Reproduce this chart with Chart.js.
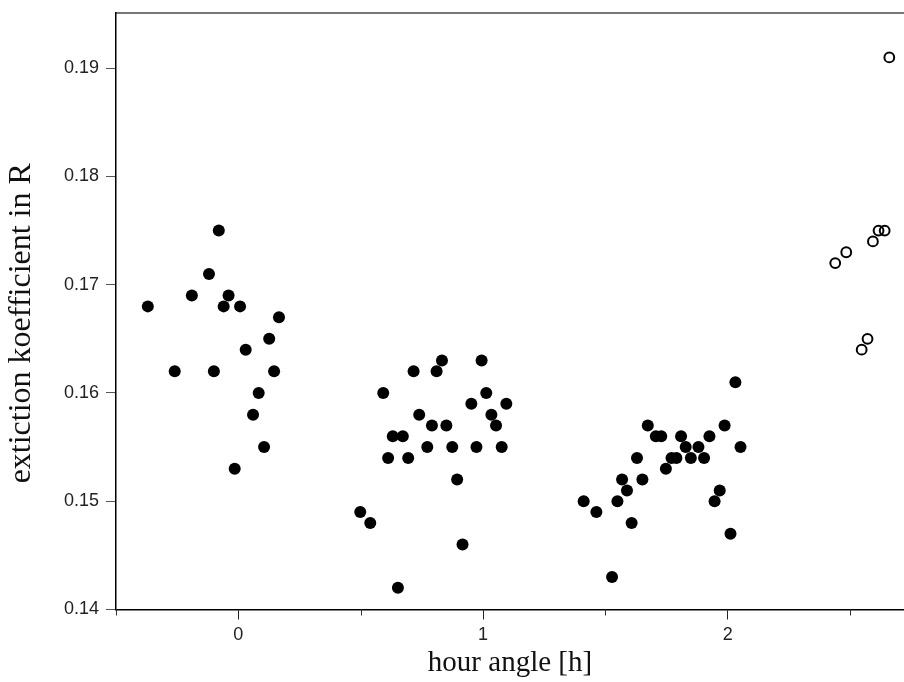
<!DOCTYPE html>
<html>
<head>
<meta charset="utf-8">
<script src="https://cdn.jsdelivr.net/npm/chart.js@4/dist/chart.umd.min.js"></script>
<style>
  html, body { margin: 0; padding: 0; background: #fff; overflow: hidden; }
  #wrap { width: 904px; height: 682px; position: relative; }
</style>
</head>
<body>
<div id="wrap"><canvas id="c"></canvas></div>
<script>
// Filled circles: hour angle [h] and extinction coefficient
const hourAngleFilled = [
  -0.37, -0.26, -0.19, -0.12, -0.10, -0.08, -0.06, -0.04, -0.015, 0.007, 0.03, 0.06, 0.083, 0.105, 0.126, 0.146, 0.166,
  0.498, 0.539, 0.592, 0.612, 0.631, 0.652, 0.672, 0.694, 0.716, 0.739, 0.772, 0.791, 0.810, 0.832, 0.850, 0.874, 0.894, 0.916, 0.952, 0.973, 0.994, 1.013, 1.034, 1.053, 1.076, 1.095,
  1.411, 1.463, 1.527, 1.549, 1.568, 1.588, 1.607, 1.629, 1.651, 1.673, 1.706, 1.728, 1.747, 1.770, 1.790, 1.809, 1.828, 1.849, 1.880, 1.903, 1.925, 1.946, 1.967, 1.987, 2.011, 2.031, 2.052
];
const extinctionFilled = [
  0.168, 0.162, 0.169, 0.171, 0.162, 0.175, 0.168, 0.169, 0.153, 0.168, 0.164, 0.158, 0.160, 0.155, 0.165, 0.162, 0.167,
  0.149, 0.148, 0.160, 0.154, 0.156, 0.142, 0.156, 0.154, 0.162, 0.158, 0.155, 0.157, 0.162, 0.163, 0.157, 0.155, 0.152, 0.146, 0.159, 0.155, 0.163, 0.160, 0.158, 0.157, 0.155, 0.159,
  0.150, 0.149, 0.143, 0.150, 0.152, 0.151, 0.148, 0.154, 0.152, 0.157, 0.156, 0.156, 0.153, 0.154, 0.154, 0.156, 0.155, 0.154, 0.155, 0.154, 0.156, 0.150, 0.151, 0.157, 0.147, 0.161, 0.155
];
// Open circles
const hourAngleOpen = [2.439, 2.484, 2.547, 2.571, 2.593, 2.616, 2.641, 2.660];
const extinctionOpen = [0.172, 0.173, 0.164, 0.165, 0.174, 0.175, 0.175, 0.191];

// Axis ticks
const xMajorTicks = [0, 1, 2];
const xMinorTicks = [-0.5, 0.5, 1.5, 2.5];
const yTicks = [0.14, 0.15, 0.16, 0.17, 0.18, 0.19];

const toPoints = (xs, ys) => xs.map((x, i) => ({ x: x, y: ys[i] }));
const zeroPad = s => { s.paddingTop = 0; s.paddingBottom = 0; s.paddingLeft = 0; s.paddingRight = 0; };

const minorTickPlugin = {
  id: 'minorTicks',
  afterDraw(chart) {
    const sx = chart.scales.x;
    const ctx = chart.ctx;
    const bottom = chart.chartArea.bottom;
    ctx.save();
    ctx.strokeStyle = '#333';
    ctx.lineWidth = 1;
    xMinorTicks.forEach(v => {
      const px = Math.round(sx.getPixelForValue(v)) + 0.5;
      ctx.beginPath();
      ctx.moveTo(px, bottom);
      ctx.lineTo(px, bottom + 6);
      ctx.stroke();
    });
    ctx.restore();
  }
};

new Chart(document.getElementById('c'), {
  type: 'scatter',
  data: {
    datasets: [
      {
        data: toPoints(hourAngleFilled, extinctionFilled),
        pointRadius: 6,
        pointHoverRadius: 6,
        pointBackgroundColor: '#000',
        pointBorderColor: '#000',
        pointBorderWidth: 0
      },
      {
        data: toPoints(hourAngleOpen, extinctionOpen),
        pointRadius: 4.9,
        pointHoverRadius: 4.9,
        pointBackgroundColor: 'rgba(255,255,255,0)',
        pointBorderColor: '#000',
        pointBorderWidth: 2
      }
    ]
  },
  options: {
    responsive: true,
    maintainAspectRatio: false,
    animation: false,
    events: [],
    layout: { autoPadding: false, padding: { top: 13, right: 0, left: 0, bottom: 0 } },
    plugins: { legend: { display: false }, tooltip: { enabled: false } },
    scales: {
      x: {
        type: 'linear',
        position: 'bottom',
        min: -0.5,
        max: 2.72,
        afterBuildTicks: s => { s.ticks = xMajorTicks.map(v => ({ value: v })); },
        afterFit: s => { s.height = 72.5; zeroPad(s); },
        border: { display: true, color: '#000', width: 1.5 },
        grid: { drawOnChartArea: false, drawTicks: true, tickLength: 10, tickColor: '#222', tickWidth: 1 },
        ticks: {
          padding: 5,
          color: '#222',
          font: { family: 'Liberation Sans', size: 18 },
          callback: v => String(Math.round(v)),
          maxRotation: 0,
          autoSkip: false
        },
        title: {
          display: true,
          text: 'hour angle [h]',
          color: '#111',
          font: { family: 'Liberation Serif', size: 29, weight: 'normal' },
          padding: { top: 0, bottom: 1 }
        }
      },
      xTop: {
        type: 'linear',
        position: 'top',
        min: -0.5,
        max: 2.72,
        afterFit: s => { s.height = 0; zeroPad(s); },
        border: { display: true, color: '#777', width: 2 },
        grid: { display: false },
        ticks: { display: false }
      },
      y: {
        type: 'linear',
        position: 'left',
        min: 0.14,
        max: 0.1951,
        afterBuildTicks: s => { s.ticks = yTicks.map(v => ({ value: v })); },
        afterFit: s => { s.width = 116; zeroPad(s); },
        border: { display: true, color: '#000', width: 1.5 },
        grid: { drawOnChartArea: false, drawTicks: true, tickLength: 10, tickColor: '#555', tickWidth: 1 },
        ticks: {
          padding: 7,
          color: '#222',
          font: { family: 'Liberation Sans', size: 18 },
          callback: v => Number(v).toFixed(2),
          autoSkip: false
        },
        title: {
          display: true,
          text: 'extiction koefficient in R   ',
          color: '#111',
          font: { family: 'Liberation Serif', size: 32, weight: 'normal' },
          padding: { top: 2, bottom: 0 }
        }
      }
    }
  },
  plugins: [minorTickPlugin]
});
</script>
</body>
</html>
